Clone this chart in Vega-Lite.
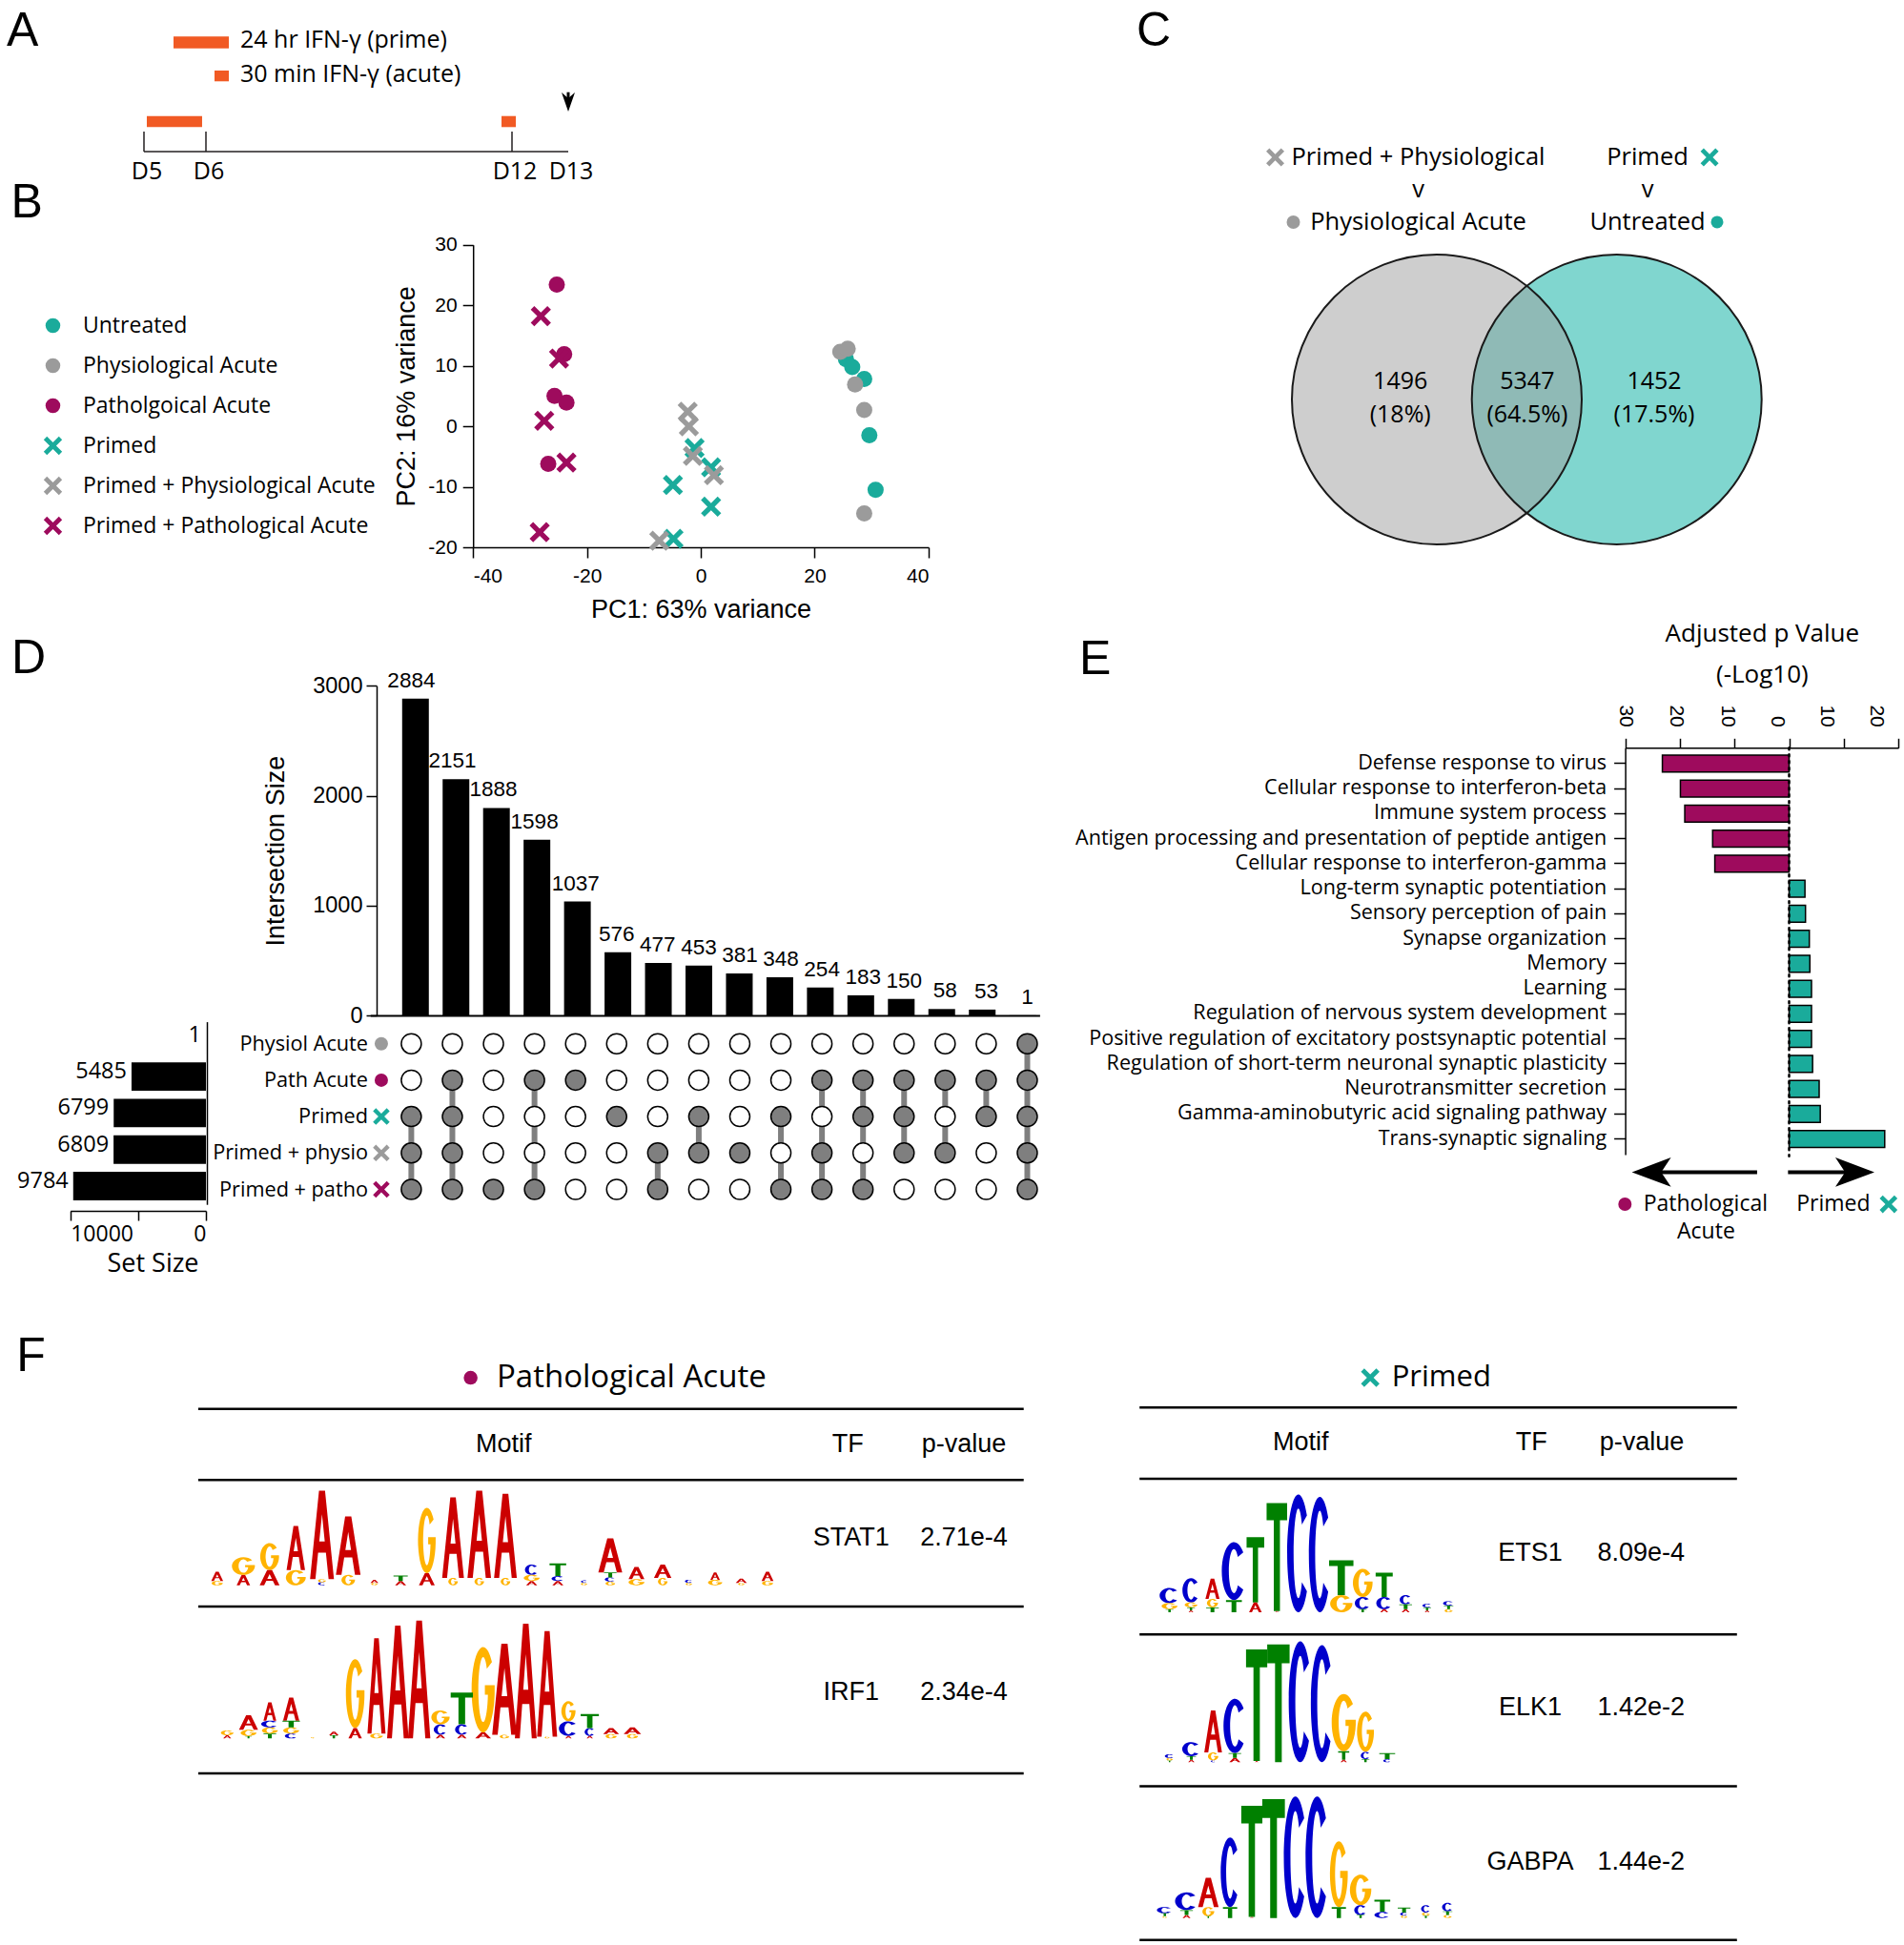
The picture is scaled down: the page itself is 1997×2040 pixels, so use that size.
{
"$schema":"https://vega.github.io/schema/vega-lite/v6.json",
"width":1997,"height":2040,"autosize":{"type":"none"},"padding":0,"background":"white",
"config":{"view":{"stroke":null},"axis":{"grid":false,"labelFont":"Liberation Sans","titleFont":"Liberation Sans","labelColor":"black","titleColor":"black","domainColor":"black","tickColor":"black","domainWidth":1.5,"tickWidth":1.5,"titleFontWeight":"normal","labelLimit":1000},"text":{"font":"Open Sans","color":"black"}},
"datasets":{
"days":[{"day":5,"label":"D5"},{"day":6,"label":"D6"},{"day":12,"label":"D12"},{"day":13,"label":"D13"}],
"timeline":[{"treatment":"24 hr IFN-γ (prime)","start":5.046,"end":5.938},{"treatment":"30 min IFN-γ (acute)","start":11.794,"end":12.068}],
"pca":[
{"group":"Untreated","PC1":25.5,"PC2":11.1},{"group":"Untreated","PC1":26.6,"PC2":9.8},{"group":"Untreated","PC1":28.7,"PC2":7.8},{"group":"Untreated","PC1":29.6,"PC2":-1.5},{"group":"Untreated","PC1":30.7,"PC2":-10.5},
{"group":"Physiological Acute","PC1":24.5,"PC2":12.3},{"group":"Physiological Acute","PC1":25.8,"PC2":12.8},{"group":"Physiological Acute","PC1":27.1,"PC2":6.9},{"group":"Physiological Acute","PC1":28.7,"PC2":2.7},{"group":"Physiological Acute","PC1":28.7,"PC2":-14.4},
{"group":"Patholgoical Acute","PC1":-25.3,"PC2":23.4},{"group":"Patholgoical Acute","PC1":-24.0,"PC2":11.9},{"group":"Patholgoical Acute","PC1":-25.7,"PC2":5.0},{"group":"Patholgoical Acute","PC1":-23.6,"PC2":3.9},{"group":"Patholgoical Acute","PC1":-26.8,"PC2":-6.2},
{"group":"Primed","PC1":-1.1,"PC2":-3.6},{"group":"Primed","PC1":1.8,"PC2":-6.8},{"group":"Primed","PC1":-4.9,"PC2":-9.7},{"group":"Primed","PC1":1.8,"PC2":-13.3},{"group":"Primed","PC1":-4.8,"PC2":-18.6},
{"group":"Primed + Physiological Acute","PC1":-2.3,"PC2":2.4},{"group":"Primed + Physiological Acute","PC1":-2.1,"PC2":0.0},{"group":"Primed + Physiological Acute","PC1":-1.4,"PC2":-4.9},{"group":"Primed + Physiological Acute","PC1":2.3,"PC2":-8.1},{"group":"Primed + Physiological Acute","PC1":-7.3,"PC2":-18.9},
{"group":"Primed + Pathological Acute","PC1":-28.1,"PC2":18.2},{"group":"Primed + Pathological Acute","PC1":-24.9,"PC2":11.2},{"group":"Primed + Pathological Acute","PC1":-27.5,"PC2":0.9},{"group":"Primed + Pathological Acute","PC1":-23.6,"PC2":-6.0},{"group":"Primed + Pathological Acute","PC1":-28.3,"PC2":-17.5}],
"upset":[
{"col":1,"size":2884,"physiol":0,"path":0,"primed":1,"pphysio":1,"ppatho":1},
{"col":2,"size":2151,"physiol":0,"path":1,"primed":1,"pphysio":1,"ppatho":1},
{"col":3,"size":1888,"physiol":0,"path":0,"primed":0,"pphysio":0,"ppatho":1},
{"col":4,"size":1598,"physiol":0,"path":1,"primed":0,"pphysio":0,"ppatho":1},
{"col":5,"size":1037,"physiol":0,"path":1,"primed":0,"pphysio":0,"ppatho":0},
{"col":6,"size":576,"physiol":0,"path":0,"primed":1,"pphysio":0,"ppatho":0},
{"col":7,"size":477,"physiol":0,"path":0,"primed":0,"pphysio":1,"ppatho":1},
{"col":8,"size":453,"physiol":0,"path":0,"primed":1,"pphysio":1,"ppatho":0},
{"col":9,"size":381,"physiol":0,"path":0,"primed":0,"pphysio":1,"ppatho":0},
{"col":10,"size":348,"physiol":0,"path":0,"primed":1,"pphysio":0,"ppatho":1},
{"col":11,"size":254,"physiol":0,"path":1,"primed":0,"pphysio":1,"ppatho":1},
{"col":12,"size":183,"physiol":0,"path":1,"primed":1,"pphysio":0,"ppatho":1},
{"col":13,"size":150,"physiol":0,"path":1,"primed":1,"pphysio":1,"ppatho":0},
{"col":14,"size":58,"physiol":0,"path":1,"primed":0,"pphysio":1,"ppatho":0},
{"col":15,"size":53,"physiol":0,"path":1,"primed":1,"pphysio":0,"ppatho":0},
{"col":16,"size":1,"physiol":1,"path":1,"primed":1,"pphysio":1,"ppatho":1}],
"links":[
{"col":1,"from":"primed","to":"ppatho"},{"col":2,"from":"path","to":"ppatho"},{"col":4,"from":"path","to":"ppatho"},{"col":7,"from":"pphysio","to":"ppatho"},{"col":8,"from":"primed","to":"pphysio"},{"col":10,"from":"primed","to":"ppatho"},{"col":11,"from":"path","to":"ppatho"},{"col":12,"from":"path","to":"ppatho"},{"col":13,"from":"path","to":"pphysio"},{"col":14,"from":"path","to":"pphysio"},{"col":15,"from":"path","to":"primed"},{"col":16,"from":"physiol","to":"ppatho"}],
"sets":[{"set":"physiol","label":"Physiol Acute","size":1},{"set":"path","label":"Path  Acute","size":5485},{"set":"primed","label":"Primed","size":6799},{"set":"pphysio","label":"Primed + physio","size":6809},{"set":"ppatho","label":"Primed + patho","size":9784}],
"go":[
{"term":"Defense response to virus","value":-23.2,"group":"Pathological Acute"},
{"term":"Cellular response to interferon-beta","value":-19.9,"group":"Pathological Acute"},
{"term":"Immune system process","value":-19.1,"group":"Pathological Acute"},
{"term":"Antigen processing and presentation of peptide antigen","value":-14.0,"group":"Pathological Acute"},
{"term":"Cellular response to interferon-gamma","value":-13.6,"group":"Pathological Acute"},
{"term":"Long-term synaptic potentiation","value":2.9,"group":"Primed"},
{"term":"Sensory perception of pain","value":3.0,"group":"Primed"},
{"term":"Synapse organization","value":3.7,"group":"Primed"},
{"term":"Memory","value":3.8,"group":"Primed"},
{"term":"Learning","value":4.1,"group":"Primed"},
{"term":"Regulation of nervous system development","value":4.1,"group":"Primed"},
{"term":"Positive regulation of excitatory postsynaptic potential","value":4.1,"group":"Primed"},
{"term":"Regulation of short-term neuronal synaptic plasticity","value":4.3,"group":"Primed"},
{"term":"Neurotransmitter secretion","value":5.5,"group":"Primed"},
{"term":"Gamma-aminobutyric acid signaling pathway","value":5.7,"group":"Primed"},
{"term":"Trans-synaptic signaling","value":17.5,"group":"Primed"}],
"venn":[{"region":"left","count":"1496","pct":"(18%)"},{"region":"both","count":"5347","pct":"(64.5%)"},{"region":"right","count":"1452","pct":"(17.5%)"}],
"vennhead":[{"side":"left","line":1,"text":"Primed + Physiological"},{"side":"left","line":2,"text":"v"},{"side":"left","line":3,"text":"Physiological Acute"},{"side":"right","line":1,"text":"Primed"},{"side":"right","line":2,"text":"v"},{"side":"right","line":3,"text":"Untreated"}],
"tfs":[{"side":"left","TF":"STAT1","p":"2.71e-4"},{"side":"left","TF":"IRF1","p":"2.34e-4"},{"side":"right","TF":"ETS1","p":"8.09e-4"},{"side":"right","TF":"ELK1","p":"1.42e-2"},{"side":"right","TF":"GABPA","p":"1.44e-2"}],
"logos":[
{"motif":"STAT1","pos":1,"letter":"G","bits":0.07},{"motif":"STAT1","pos":1,"letter":"A","bits":0.15},
{"motif":"STAT1","pos":2,"letter":"A","bits":0.17},{"motif":"STAT1","pos":2,"letter":"G","bits":0.29},
{"motif":"STAT1","pos":3,"letter":"A","bits":0.25},{"motif":"STAT1","pos":3,"letter":"G","bits":0.44},
{"motif":"STAT1","pos":4,"letter":"G","bits":0.25},{"motif":"STAT1","pos":4,"letter":"A","bits":0.72},
{"motif":"STAT1","pos":5,"letter":"C","bits":0.05},{"motif":"STAT1","pos":5,"letter":"G","bits":0.05},{"motif":"STAT1","pos":5,"letter":"A","bits":1.45},
{"motif":"STAT1","pos":6,"letter":"G","bits":0.17},{"motif":"STAT1","pos":6,"letter":"A","bits":0.96},
{"motif":"STAT1","pos":7,"letter":"G","bits":0.04},{"motif":"STAT1","pos":7,"letter":"A","bits":0.05},
{"motif":"STAT1","pos":8,"letter":"A","bits":0.07},{"motif":"STAT1","pos":8,"letter":"T","bits":0.09},
{"motif":"STAT1","pos":9,"letter":"A","bits":0.2},{"motif":"STAT1","pos":9,"letter":"G","bits":1.07},
{"motif":"STAT1","pos":10,"letter":"G","bits":0.12},{"motif":"STAT1","pos":10,"letter":"A","bits":1.32},
{"motif":"STAT1","pos":11,"letter":"G","bits":0.12},{"motif":"STAT1","pos":11,"letter":"A","bits":1.43},
{"motif":"STAT1","pos":12,"letter":"G","bits":0.12},{"motif":"STAT1","pos":12,"letter":"A","bits":1.38},
{"motif":"STAT1","pos":13,"letter":"A","bits":0.07},{"motif":"STAT1","pos":13,"letter":"G","bits":0.1},{"motif":"STAT1","pos":13,"letter":"C","bits":0.17},
{"motif":"STAT1","pos":14,"letter":"A","bits":0.07},{"motif":"STAT1","pos":14,"letter":"C","bits":0.08},{"motif":"STAT1","pos":14,"letter":"T","bits":0.21},
{"motif":"STAT1","pos":15,"letter":"G","bits":0.04},{"motif":"STAT1","pos":15,"letter":"C","bits":0.04},
{"motif":"STAT1","pos":16,"letter":"G","bits":0.06},{"motif":"STAT1","pos":16,"letter":"C","bits":0.07},{"motif":"STAT1","pos":16,"letter":"T","bits":0.08},{"motif":"STAT1","pos":16,"letter":"A","bits":0.56},
{"motif":"STAT1","pos":17,"letter":"G","bits":0.1},{"motif":"STAT1","pos":17,"letter":"A","bits":0.2},
{"motif":"STAT1","pos":18,"letter":"G","bits":0.12},{"motif":"STAT1","pos":18,"letter":"A","bits":0.22},
{"motif":"STAT1","pos":19,"letter":"G","bits":0.04},{"motif":"STAT1","pos":19,"letter":"C","bits":0.05},
{"motif":"STAT1","pos":20,"letter":"G","bits":0.09},{"motif":"STAT1","pos":20,"letter":"A","bits":0.12},
{"motif":"STAT1","pos":21,"letter":"G","bits":0.04},{"motif":"STAT1","pos":21,"letter":"A","bits":0.07},
{"motif":"STAT1","pos":22,"letter":"G","bits":0.07},{"motif":"STAT1","pos":22,"letter":"A","bits":0.15},
{"motif":"IRF1","pos":1,"letter":"A","bits":0.05},{"motif":"IRF1","pos":1,"letter":"G","bits":0.08},
{"motif":"IRF1","pos":2,"letter":"T","bits":0.04},{"motif":"IRF1","pos":2,"letter":"G","bits":0.1},{"motif":"IRF1","pos":2,"letter":"A","bits":0.24},
{"motif":"IRF1","pos":3,"letter":"T","bits":0.08},{"motif":"IRF1","pos":3,"letter":"G","bits":0.1},{"motif":"IRF1","pos":3,"letter":"C","bits":0.11},{"motif":"IRF1","pos":3,"letter":"A","bits":0.3},
{"motif":"IRF1","pos":4,"letter":"C","bits":0.08},{"motif":"IRF1","pos":4,"letter":"G","bits":0.1},{"motif":"IRF1","pos":4,"letter":"T","bits":0.11},{"motif":"IRF1","pos":4,"letter":"A","bits":0.38},
{"motif":"IRF1","pos":5,"letter":"G","bits":0.02},
{"motif":"IRF1","pos":6,"letter":"T","bits":0.05},{"motif":"IRF1","pos":6,"letter":"A","bits":0.06},
{"motif":"IRF1","pos":7,"letter":"A","bits":0.17},{"motif":"IRF1","pos":7,"letter":"G","bits":1.13},
{"motif":"IRF1","pos":8,"letter":"G","bits":0.08},{"motif":"IRF1","pos":8,"letter":"A","bits":1.56},
{"motif":"IRF1","pos":9,"letter":"A","bits":1.85},
{"motif":"IRF1","pos":10,"letter":"A","bits":1.93},
{"motif":"IRF1","pos":11,"letter":"A","bits":0.06},{"motif":"IRF1","pos":11,"letter":"C","bits":0.17},{"motif":"IRF1","pos":11,"letter":"G","bits":0.23},
{"motif":"IRF1","pos":12,"letter":"A","bits":0.06},{"motif":"IRF1","pos":12,"letter":"C","bits":0.17},{"motif":"IRF1","pos":12,"letter":"T","bits":0.52},
{"motif":"IRF1","pos":13,"letter":"A","bits":0.1},{"motif":"IRF1","pos":13,"letter":"G","bits":1.4},
{"motif":"IRF1","pos":14,"letter":"G","bits":0.06},{"motif":"IRF1","pos":14,"letter":"A","bits":1.49},
{"motif":"IRF1","pos":15,"letter":"A","bits":1.88},
{"motif":"IRF1","pos":16,"letter":"G","bits":0.03},{"motif":"IRF1","pos":16,"letter":"A","bits":1.73},
{"motif":"IRF1","pos":17,"letter":"A","bits":0.04},{"motif":"IRF1","pos":17,"letter":"C","bits":0.24},{"motif":"IRF1","pos":17,"letter":"G","bits":0.33},
{"motif":"IRF1","pos":18,"letter":"A","bits":0.04},{"motif":"IRF1","pos":18,"letter":"C","bits":0.13},{"motif":"IRF1","pos":18,"letter":"T","bits":0.23},
{"motif":"IRF1","pos":19,"letter":"G","bits":0.07},{"motif":"IRF1","pos":19,"letter":"A","bits":0.1},
{"motif":"IRF1","pos":20,"letter":"G","bits":0.07},{"motif":"IRF1","pos":20,"letter":"A","bits":0.11},
{"motif":"ETS1","pos":1,"letter":"T","bits":0.05},{"motif":"ETS1","pos":1,"letter":"G","bits":0.1},{"motif":"ETS1","pos":1,"letter":"C","bits":0.25},
{"motif":"ETS1","pos":2,"letter":"A","bits":0.03},{"motif":"ETS1","pos":2,"letter":"T","bits":0.05},{"motif":"ETS1","pos":2,"letter":"G","bits":0.08},{"motif":"ETS1","pos":2,"letter":"C","bits":0.4},
{"motif":"ETS1","pos":3,"letter":"T","bits":0.08},{"motif":"ETS1","pos":3,"letter":"G","bits":0.14},{"motif":"ETS1","pos":3,"letter":"A","bits":0.33},
{"motif":"ETS1","pos":4,"letter":"T","bits":0.2},{"motif":"ETS1","pos":4,"letter":"C","bits":0.95},
{"motif":"ETS1","pos":5,"letter":"A","bits":0.16},{"motif":"ETS1","pos":5,"letter":"T","bits":1.07},
{"motif":"ETS1","pos":6,"letter":"A","bits":0.02},{"motif":"ETS1","pos":6,"letter":"T","bits":1.77},
{"motif":"ETS1","pos":7,"letter":"C","bits":1.93},
{"motif":"ETS1","pos":8,"letter":"C","bits":1.89},
{"motif":"ETS1","pos":9,"letter":"G","bits":0.28},{"motif":"ETS1","pos":9,"letter":"T","bits":0.57},
{"motif":"ETS1","pos":10,"letter":"T","bits":0.05},{"motif":"ETS1","pos":10,"letter":"C","bits":0.2},{"motif":"ETS1","pos":10,"letter":"G","bits":0.46},
{"motif":"ETS1","pos":11,"letter":"A","bits":0.05},{"motif":"ETS1","pos":11,"letter":"C","bits":0.2},{"motif":"ETS1","pos":11,"letter":"T","bits":0.4},
{"motif":"ETS1","pos":12,"letter":"A","bits":0.05},{"motif":"ETS1","pos":12,"letter":"T","bits":0.08},{"motif":"ETS1","pos":12,"letter":"C","bits":0.15},
{"motif":"ETS1","pos":13,"letter":"A","bits":0.03},{"motif":"ETS1","pos":13,"letter":"T","bits":0.05},{"motif":"ETS1","pos":13,"letter":"C","bits":0.06},
{"motif":"ETS1","pos":14,"letter":"G","bits":0.05},{"motif":"ETS1","pos":14,"letter":"T","bits":0.06},{"motif":"ETS1","pos":14,"letter":"C","bits":0.07},
{"motif":"ELK1","pos":1,"letter":"T","bits":0.03},{"motif":"ELK1","pos":1,"letter":"G","bits":0.04},{"motif":"ELK1","pos":1,"letter":"C","bits":0.06},
{"motif":"ELK1","pos":2,"letter":"A","bits":0.04},{"motif":"ELK1","pos":2,"letter":"T","bits":0.06},{"motif":"ELK1","pos":2,"letter":"C","bits":0.23},
{"motif":"ELK1","pos":3,"letter":"C","bits":0.03},{"motif":"ELK1","pos":3,"letter":"G","bits":0.13},{"motif":"ELK1","pos":3,"letter":"A","bits":0.69},
{"motif":"ELK1","pos":4,"letter":"A","bits":0.07},{"motif":"ELK1","pos":4,"letter":"T","bits":0.08},{"motif":"ELK1","pos":4,"letter":"C","bits":0.89},
{"motif":"ELK1","pos":5,"letter":"A","bits":0.02},{"motif":"ELK1","pos":5,"letter":"T","bits":1.83},
{"motif":"ELK1","pos":6,"letter":"T","bits":1.93},
{"motif":"ELK1","pos":7,"letter":"C","bits":1.98},
{"motif":"ELK1","pos":8,"letter":"C","bits":1.92},
{"motif":"ELK1","pos":9,"letter":"A","bits":0.04},{"motif":"ELK1","pos":9,"letter":"T","bits":0.14},{"motif":"ELK1","pos":9,"letter":"G","bits":0.94},
{"motif":"ELK1","pos":10,"letter":"T","bits":0.05},{"motif":"ELK1","pos":10,"letter":"C","bits":0.12},{"motif":"ELK1","pos":10,"letter":"G","bits":0.66},
{"motif":"ELK1","pos":11,"letter":"C","bits":0.05},{"motif":"ELK1","pos":11,"letter":"T","bits":0.1},
{"motif":"GABPA","pos":1,"letter":"G","bits":0.03},{"motif":"GABPA","pos":1,"letter":"T","bits":0.05},{"motif":"GABPA","pos":1,"letter":"C","bits":0.1},
{"motif":"GABPA","pos":2,"letter":"A","bits":0.05},{"motif":"GABPA","pos":2,"letter":"T","bits":0.08},{"motif":"GABPA","pos":2,"letter":"C","bits":0.29},
{"motif":"GABPA","pos":3,"letter":"T","bits":0.03},{"motif":"GABPA","pos":3,"letter":"G","bits":0.15},{"motif":"GABPA","pos":3,"letter":"A","bits":0.48},
{"motif":"GABPA","pos":4,"letter":"T","bits":0.18},{"motif":"GABPA","pos":4,"letter":"C","bits":1.14},
{"motif":"GABPA","pos":5,"letter":"A","bits":0.02},{"motif":"GABPA","pos":5,"letter":"T","bits":1.82},
{"motif":"GABPA","pos":6,"letter":"T","bits":1.95},
{"motif":"GABPA","pos":7,"letter":"C","bits":1.99},
{"motif":"GABPA","pos":8,"letter":"C","bits":1.99},
{"motif":"GABPA","pos":9,"letter":"T","bits":0.18},{"motif":"GABPA","pos":9,"letter":"G","bits":1.08},
{"motif":"GABPA","pos":10,"letter":"T","bits":0.05},{"motif":"GABPA","pos":10,"letter":"C","bits":0.16},{"motif":"GABPA","pos":10,"letter":"G","bits":0.5},
{"motif":"GABPA","pos":11,"letter":"C","bits":0.1},{"motif":"GABPA","pos":11,"letter":"T","bits":0.2},
{"motif":"GABPA","pos":12,"letter":"G","bits":0.04},{"motif":"GABPA","pos":12,"letter":"C","bits":0.05},{"motif":"GABPA","pos":12,"letter":"T","bits":0.08},
{"motif":"GABPA","pos":13,"letter":"T","bits":0.04},{"motif":"GABPA","pos":13,"letter":"G","bits":0.05},{"motif":"GABPA","pos":13,"letter":"C","bits":0.12},
{"motif":"GABPA","pos":14,"letter":"G","bits":0.05},{"motif":"GABPA","pos":14,"letter":"T","bits":0.06},{"motif":"GABPA","pos":14,"letter":"C","bits":0.14}]
},
"layer":[
{"layer":[
 {"data":{"values":[{}]},"mark":{"type":"rule","color":"#231f20","strokeWidth":1.5},"encoding":{"x":{"datum":5,"type":"quantitative","scale":{"domain":[5,6,12,13],"range":[151,216,537,596],"zero":false,"nice":false},"axis":null},"x2":{"datum":13},"y":{"datum":0,"type":"quantitative","scale":{"domain":[0,10],"range":[159,59],"zero":false,"nice":false},"axis":null}}},
 {"data":{"name":"days"},"transform":[{"filter":"datum.day != 13"}],"mark":{"type":"rule","color":"#231f20","strokeWidth":1.5},"encoding":{"x":{"field":"day","type":"quantitative","scale":{"domain":[5,6,12,13],"range":[151,216,537,596],"zero":false,"nice":false},"axis":null},"y":{"datum":0,"type":"quantitative","scale":{"domain":[0,10],"range":[159,59],"zero":false,"nice":false},"axis":null},"y2":{"datum":2.1}}},
 {"data":{"name":"days"},"mark":{"type":"text","fontSize":25,"align":"center","baseline":"alphabetic","dx":3},"encoding":{"x":{"field":"day","type":"quantitative","scale":{"domain":[5,6,12,13],"range":[151,216,537,596],"zero":false,"nice":false},"axis":null},"y":{"datum":-2.9,"type":"quantitative","scale":{"domain":[0,10],"range":[159,59],"zero":false,"nice":false},"axis":null},"text":{"field":"label"}}},
 {"data":{"name":"timeline"},"mark":{"type":"rect","color":"#f15a24"},"encoding":{"x":{"field":"start","type":"quantitative","scale":{"domain":[5,6,12,13],"range":[151,216,537,596],"zero":false,"nice":false},"axis":null},"x2":{"field":"end"},"y":{"datum":2.57,"type":"quantitative","scale":{"domain":[0,10],"range":[159,59],"zero":false,"nice":false},"axis":null},"y2":{"datum":3.73}}},
 {"data":{"values":[{}]},"mark":{"type":"rect","color":"#f15a24"},"encoding":{"x":{"datum":5.477,"type":"quantitative","scale":{"domain":[5,6,12,13],"range":[151,216,537,596],"zero":false,"nice":false},"axis":null},"x2":{"datum":6.449},"y":{"datum":10.83,"type":"quantitative","scale":{"domain":[0,10],"range":[159,59],"zero":false,"nice":false},"axis":null},"y2":{"datum":12.07}}},
 {"data":{"values":[{}]},"mark":{"type":"rect","color":"#f15a24"},"encoding":{"x":{"datum":6.168,"type":"quantitative","scale":{"domain":[5,6,12,13],"range":[151,216,537,596],"zero":false,"nice":false},"axis":null},"x2":{"datum":6.449},"y":{"datum":7.37,"type":"quantitative","scale":{"domain":[0,10],"range":[159,59],"zero":false,"nice":false},"axis":null},"y2":{"datum":8.5}}},
 {"data":{"values":[{}]},"mark":{"type":"text","text":"24 hr IFN-γ (prime)","fontSize":25,"align":"left","baseline":"alphabetic"},"encoding":{"x":{"datum":6.673,"type":"quantitative","scale":{"domain":[5,6,12,13],"range":[151,216,537,596],"zero":false,"nice":false},"axis":null},"y":{"datum":10.9,"type":"quantitative","scale":{"domain":[0,10],"range":[159,59],"zero":false,"nice":false},"axis":null}}},
 {"data":{"values":[{}]},"mark":{"type":"text","text":"30 min IFN-γ (acute)","fontSize":25,"align":"left","baseline":"alphabetic"},"encoding":{"x":{"datum":6.673,"type":"quantitative","scale":{"domain":[5,6,12,13],"range":[151,216,537,596],"zero":false,"nice":false},"axis":null},"y":{"datum":7.3,"type":"quantitative","scale":{"domain":[0,10],"range":[159,59],"zero":false,"nice":false},"axis":null}}},
 {"data":{"values":[{}]},"mark":{"type":"rule","color":"black","strokeWidth":3},"encoding":{"x":{"datum":13,"type":"quantitative","scale":{"domain":[5,6,12,13],"range":[151,216,537,596],"zero":false,"nice":false},"axis":null},"y":{"datum":6.23,"type":"quantitative","scale":{"domain":[0,10],"range":[159,59],"zero":false,"nice":false},"axis":null},"y2":{"datum":5.0}}},
 {"data":{"values":[{}]},"mark":{"type":"point","shape":"M0,1L-0.7,-1L0,-0.4L0.7,-1Z","size":400,"filled":true,"opacity":1,"color":"black"},"encoding":{"x":{"datum":13,"type":"quantitative","scale":{"domain":[5,6,12,13],"range":[151,216,537,596],"zero":false,"nice":false},"axis":null},"y":{"datum":5.2,"type":"quantitative","scale":{"domain":[0,10],"range":[159,59],"zero":false,"nice":false},"axis":null}}},
 {"data":{"values":[{}]},"mark":{"type":"text","text":"A","font":"Liberation Sans","fontSize":50,"align":"center","baseline":"alphabetic"},"encoding":{"x":{"datum":3.04,"type":"quantitative","scale":{"domain":[5,6,12,13],"range":[151,216,537,596],"zero":false,"nice":false},"axis":null},"y":{"datum":11.1,"type":"quantitative","scale":{"domain":[0,10],"range":[159,59],"zero":false,"nice":false},"axis":null}}}
],"resolve":{"scale":{"x":"independent","y":"independent"}}},
{"layer":[
 {"data":{"name":"pca"},"mark":{"type":"point","filled":true,"opacity":1,"size":289},
  "encoding":{
   "x":{"field":"PC1","type":"quantitative","scale":{"domain":[-40,40],"range":[496.2,973.9],"zero":false,"nice":false},"axis":{"orient":"bottom","offset":-1466,"values":[-40,-20,0,20,40],"format":"d","labelExpr":"replace(datum.label,'−','-')","labelFontSize":21,"tickSize":11,"labelPadding":8,"title":"PC1: 63% variance","titleFontSize":27,"titlePadding":12}},
   "y":{"field":"PC2","type":"quantitative","scale":{"domain":[-20,30],"range":[574,256.7],"zero":false,"nice":false},"axis":{"orient":"left","offset":-496.2,"values":[-20,-10,0,10,20,30],"format":"d","labelExpr":"replace(datum.label,'−','-')","labelFontSize":21,"tickSize":11,"labelPadding":6,"title":"PC2: 16% variance","titleFontSize":27,"titlePadding":8}},
   "color":{"field":"group","type":"nominal","scale":{"domain":["Untreated","Physiological Acute","Patholgoical Acute","Primed","Primed + Physiological Acute","Primed + Pathological Acute"],"range":["#1aab9b","#9b9b9b","#9e0b5d","#1aab9b","#9b9b9b","#9e0b5d"]},"legend":{"orient":"none","legendX":44,"legendY":330,"title":null,"labelFont":"Open Sans","labelFontSize":23,"labelColor":"black","symbolSize":240,"rowPadding":18,"labelOffset":20,"symbolStrokeWidth":0,"labelLimit":1000}},
   "shape":{"field":"group","type":"nominal","scale":{"domain":["Untreated","Physiological Acute","Patholgoical Acute","Primed","Primed + Physiological Acute","Primed + Pathological Acute"],"range":["circle","circle","circle","M-1.25,-0.81L-0.81,-1.25L0,-0.44L0.81,-1.25L1.25,-0.81L0.44,0L1.25,0.81L0.81,1.25L0,0.44L-0.81,1.25L-1.25,0.81L-0.44,0Z","M-1.25,-0.81L-0.81,-1.25L0,-0.44L0.81,-1.25L1.25,-0.81L0.44,0L1.25,0.81L0.81,1.25L0,0.44L-0.81,1.25L-1.25,0.81L-0.44,0Z","M-1.25,-0.81L-0.81,-1.25L0,-0.44L0.81,-1.25L1.25,-0.81L0.44,0L1.25,0.81L0.81,1.25L0,0.44L-0.81,1.25L-1.25,0.81L-0.44,0Z"]},"legend":{"orient":"none","legendX":44,"legendY":330,"title":null,"labelFont":"Open Sans","labelFontSize":23,"labelColor":"black","symbolSize":240,"rowPadding":18,"labelOffset":20,"symbolStrokeWidth":0,"labelLimit":1000}}}},
 {"data":{"values":[{}]},"mark":{"type":"text","text":"B","font":"Liberation Sans","fontSize":50,"align":"center","baseline":"alphabetic"},"encoding":{"x":{"datum":-118.4,"type":"quantitative","scale":{"domain":[-40,40],"range":[496.2,973.9],"zero":false,"nice":false},"axis":null},"y":{"datum":34.6,"type":"quantitative","scale":{"domain":[-20,30],"range":[574,256.7],"zero":false,"nice":false},"axis":null}}}
],"resolve":{"scale":{"x":"independent","y":"independent","color":"independent","shape":"independent"}}},
{"layer":[
 {"data":{"values":[{}]},"mark":{"type":"point","shape":"circle","size":92416,"filled":true,"opacity":1,"color":"#80d6cf"},"encoding":{"x":{"datum":1.2414,"type":"quantitative","scale":{"domain":[-1,2.24],"range":[1355,1847.5],"zero":false,"nice":false},"axis":null},"y":{"datum":0,"type":"quantitative","scale":{"domain":[-1,1],"range":[571,267],"zero":false,"nice":false},"axis":null}}},
 {"data":{"values":[{}]},"mark":{"type":"point","shape":"circle","size":92416,"filled":true,"opacity":0.5,"color":"#9d9d9d"},"encoding":{"x":{"datum":0,"type":"quantitative","scale":{"domain":[-1,2.24],"range":[1355,1847.5],"zero":false,"nice":false},"axis":null},"y":{"datum":0,"type":"quantitative","scale":{"domain":[-1,1],"range":[571,267],"zero":false,"nice":false},"axis":null}}},
 {"data":{"values":[{}]},"mark":{"type":"point","shape":"circle","size":92416,"filled":false,"opacity":1,"color":"#1a1a1a","strokeWidth":2},"encoding":{"x":{"datum":1.2414,"type":"quantitative","scale":{"domain":[-1,2.24],"range":[1355,1847.5],"zero":false,"nice":false},"axis":null},"y":{"datum":0,"type":"quantitative","scale":{"domain":[-1,1],"range":[571,267],"zero":false,"nice":false},"axis":null}}},
 {"data":{"values":[{}]},"mark":{"type":"point","shape":"circle","size":92416,"filled":false,"opacity":1,"color":"#1a1a1a","strokeWidth":2},"encoding":{"x":{"datum":0,"type":"quantitative","scale":{"domain":[-1,2.24],"range":[1355,1847.5],"zero":false,"nice":false},"axis":null},"y":{"datum":0,"type":"quantitative","scale":{"domain":[-1,1],"range":[571,267],"zero":false,"nice":false},"axis":null}}},
 {"data":{"name":"venn"},"mark":{"type":"text","fontSize":25,"align":"center","baseline":"middle"},"encoding":{"x":{"field":"region","type":"nominal","scale":{"type":"point","domain":["left","both","right"],"range":[1468.7,1735],"padding":0},"axis":null},"y":{"datum":0.125,"type":"quantitative","scale":{"domain":[-1,1],"range":[571,267],"zero":false,"nice":false},"axis":null},"text":{"field":"count"}}},
 {"data":{"name":"venn"},"mark":{"type":"text","fontSize":25,"align":"center","baseline":"middle"},"encoding":{"x":{"field":"region","type":"nominal","scale":{"type":"point","domain":["left","both","right"],"range":[1468.7,1735],"padding":0},"axis":null},"y":{"datum":-0.105,"type":"quantitative","scale":{"domain":[-1,1],"range":[571,267],"zero":false,"nice":false},"axis":null},"text":{"field":"pct"}}},
 {"data":{"name":"vennhead"},"mark":{"type":"text","fontSize":25.5,"align":"center","baseline":"middle"},"encoding":{"x":{"field":"side","type":"nominal","scale":{"type":"point","domain":["left","right"],"range":[1487.5,1728],"padding":0},"axis":null},"y":{"field":"line","type":"ordinal","scale":{"type":"point","domain":[1,2,3],"range":[165,233],"padding":0},"axis":null},"text":{"field":"text"}}},
 {"data":{"values":[{}]},"mark":{"type":"point","shape":"M-1.25,-0.81L-0.81,-1.25L0,-0.44L0.81,-1.25L1.25,-0.81L0.44,0L1.25,0.81L0.81,1.25L0,0.44L-0.81,1.25L-1.25,0.81L-0.44,0Z","size":231,"filled":true,"opacity":1,"color":"#9b9b9b"},"encoding":{"x":{"datum":-1.115,"type":"quantitative","scale":{"domain":[-1,2.24],"range":[1355,1847.5],"zero":false,"nice":false},"axis":null},"y":{"datum":1.671,"type":"quantitative","scale":{"domain":[-1,1],"range":[571,267],"zero":false,"nice":false},"axis":null}}},
 {"data":{"values":[{}]},"mark":{"type":"point","shape":"circle","size":196,"filled":true,"opacity":1,"color":"#9b9b9b"},"encoding":{"x":{"datum":-0.99,"type":"quantitative","scale":{"domain":[-1,2.24],"range":[1355,1847.5],"zero":false,"nice":false},"axis":null},"y":{"datum":1.224,"type":"quantitative","scale":{"domain":[-1,1],"range":[571,267],"zero":false,"nice":false},"axis":null}}},
 {"data":{"values":[{}]},"mark":{"type":"point","shape":"M-1.25,-0.81L-0.81,-1.25L0,-0.44L0.81,-1.25L1.25,-0.81L0.44,0L1.25,0.81L0.81,1.25L0,0.44L-0.81,1.25L-1.25,0.81L-0.44,0Z","size":231,"filled":true,"opacity":1,"color":"#1aab9b"},"encoding":{"x":{"datum":1.882,"type":"quantitative","scale":{"domain":[-1,2.24],"range":[1355,1847.5],"zero":false,"nice":false},"axis":null},"y":{"datum":1.671,"type":"quantitative","scale":{"domain":[-1,1],"range":[571,267],"zero":false,"nice":false},"axis":null}}},
 {"data":{"values":[{}]},"mark":{"type":"point","shape":"circle","size":169,"filled":true,"opacity":1,"color":"#1aab9b"},"encoding":{"x":{"datum":1.934,"type":"quantitative","scale":{"domain":[-1,2.24],"range":[1355,1847.5],"zero":false,"nice":false},"axis":null},"y":{"datum":1.224,"type":"quantitative","scale":{"domain":[-1,1],"range":[571,267],"zero":false,"nice":false},"axis":null}}},
 {"data":{"values":[{}]},"mark":{"type":"text","text":"C","font":"Liberation Sans","fontSize":50,"align":"center","baseline":"alphabetic"},"encoding":{"x":{"datum":-1.954,"type":"quantitative","scale":{"domain":[-1,2.24],"range":[1355,1847.5],"zero":false,"nice":false},"axis":null},"y":{"datum":2.441,"type":"quantitative","scale":{"domain":[-1,1],"range":[571,267],"zero":false,"nice":false},"axis":null}}}
],"resolve":{"scale":{"x":"independent","y":"independent"}}},
{"layer":[
 {"data":{"name":"upset"},"mark":{"type":"bar","color":"black","width":28},"encoding":{"x":{"field":"col","type":"quantitative","scale":{"domain":[0,16.3],"range":[388.33,1090.4],"zero":false,"nice":false},"axis":{"orient":"bottom","offset":-975,"labels":false,"ticks":false,"title":null,"domainWidth":2}},"y":{"field":"size","type":"quantitative","scale":{"domain":[0,3000],"range":[1065,719.3],"zero":false,"nice":false},"axis":{"orient":"left","offset":-395,"values":[0,1000,2000,3000],"format":"d","tickSize":11,"labelFontSize":23.5,"labelPadding":4,"title":"Intersection Size","titleFontSize":27,"titlePadding":24}}}},
 {"data":{"name":"upset"},"mark":{"type":"text","font":"Liberation Sans","fontSize":22.5,"align":"center","baseline":"alphabetic","dy":-12},"encoding":{"x":{"field":"col","type":"quantitative","scale":{"domain":[0,16.3],"range":[388.33,1090.4],"zero":false,"nice":false},"axis":null},"y":{"field":"size","type":"quantitative","scale":{"domain":[0,3000],"range":[1065,719.3],"zero":false,"nice":false},"axis":null},"text":{"field":"size","type":"nominal"}}},
 {"data":{"name":"links"},"mark":{"type":"rule","color":"#7f7f7f","strokeWidth":6},"encoding":{"x":{"field":"col","type":"quantitative","scale":{"domain":[0,16.3],"range":[388.33,1090.4],"zero":false,"nice":false},"axis":null},"y":{"field":"from","type":"nominal","scale":{"type":"point","domain":["physiol","path","primed","pphysio","ppatho"],"range":[1094.7,1247.5],"padding":0},"axis":null},"y2":{"field":"to"}}},
 {"data":{"name":"upset"},"transform":[{"fold":["physiol","path","primed","pphysio","ppatho"],"as":["set","member"]}],"mark":{"type":"point","filled":true,"opacity":1,"size":441,"stroke":"black","strokeWidth":1.5},"encoding":{"x":{"field":"col","type":"quantitative","scale":{"domain":[0,16.3],"range":[388.33,1090.4],"zero":false,"nice":false},"axis":null},"y":{"field":"set","type":"nominal","scale":{"type":"point","domain":["physiol","path","primed","pphysio","ppatho"],"range":[1094.7,1247.5],"padding":0},"axis":null},"color":{"field":"member","type":"nominal","scale":{"domain":[0,1],"range":["white","#7f7f7f"]},"legend":null}}},
 {"data":{"name":"sets"},"mark":{"type":"text","fontSize":21.7,"align":"right","baseline":"middle"},"encoding":{"x":{"datum":-0.054,"type":"quantitative","scale":{"domain":[0,16.3],"range":[388.33,1090.4],"zero":false,"nice":false},"axis":null},"y":{"field":"set","type":"nominal","scale":{"type":"point","domain":["physiol","path","primed","pphysio","ppatho"],"range":[1094.7,1247.5],"padding":0},"axis":null},"text":{"field":"label"}}},
 {"data":{"name":"sets"},"mark":{"type":"point","filled":true,"opacity":1,"size":196},"encoding":{"x":{"datum":0.27,"type":"quantitative","scale":{"domain":[0,16.3],"range":[388.33,1090.4],"zero":false,"nice":false},"axis":null},"y":{"field":"set","type":"nominal","scale":{"type":"point","domain":["physiol","path","primed","pphysio","ppatho"],"range":[1094.7,1247.5],"padding":0},"axis":null},"color":{"field":"set","type":"nominal","scale":{"domain":["physiol","path","primed","pphysio","ppatho"],"range":["#9b9b9b","#9e0b5d","#1aab9b","#9b9b9b","#9e0b5d"]},"legend":null},"shape":{"field":"set","type":"nominal","scale":{"domain":["physiol","path","primed","pphysio","ppatho"],"range":["circle","circle","M-1.25,-0.81L-0.81,-1.25L0,-0.44L0.81,-1.25L1.25,-0.81L0.44,0L1.25,0.81L0.81,1.25L0,0.44L-0.81,1.25L-1.25,0.81L-0.44,0Z","M-1.25,-0.81L-0.81,-1.25L0,-0.44L0.81,-1.25L1.25,-0.81L0.44,0L1.25,0.81L0.81,1.25L0,0.44L-0.81,1.25L-1.25,0.81L-0.44,0Z","M-1.25,-0.81L-0.81,-1.25L0,-0.44L0.81,-1.25L1.25,-0.81L0.44,0L1.25,0.81L0.81,1.25L0,0.44L-0.81,1.25L-1.25,0.81L-0.44,0Z"]},"legend":null}}},
 {"data":{"name":"sets"},"mark":{"type":"bar","color":"black"},"encoding":{"x":{"field":"size","type":"quantitative","scale":{"domain":[0,10000],"range":[216,73.7],"zero":false,"nice":false},"axis":{"orient":"bottom","offset":-770,"values":[0,5000,10000],"format":"d","labelExpr":"datum.value == 5000 ? '' : datum.label","labelFont":"Open Sans","labelFontSize":23,"tickSize":10,"labelPadding":3,"title":"Set Size","titleFont":"Open Sans","titleFontSize":27,"titlePadding":6,"titleX":160}},"y":{"field":"set","type":"nominal","scale":{"type":"band","domain":["physiol","path","primed","pphysio","ppatho"],"range":[1071.6,1263.2],"paddingInner":0.22,"paddingOuter":0.11},"axis":{"orient":"right","offset":-1780,"labels":false,"ticks":false,"title":null}}}},
 {"data":{"name":"sets"},"mark":{"type":"text","fontSize":23.5,"align":"right","baseline":"middle","dx":-5,"dy":-5},"encoding":{"x":{"field":"size","type":"quantitative","scale":{"domain":[0,10000],"range":[216,73.7],"zero":false,"nice":false},"axis":null},"y":{"field":"set","type":"nominal","scale":{"type":"band","domain":["physiol","path","primed","pphysio","ppatho"],"range":[1071.6,1263.2],"paddingInner":0.22,"paddingOuter":0.11},"axis":null},"text":{"field":"size","type":"nominal"}}},
 {"data":{"values":[{}]},"mark":{"type":"text","text":"D","font":"Liberation Sans","fontSize":50,"align":"center","baseline":"alphabetic"},"encoding":{"x":{"datum":-8.32,"type":"quantitative","scale":{"domain":[0,16.3],"range":[388.33,1090.4],"zero":false,"nice":false},"axis":null},"y":{"datum":3115,"type":"quantitative","scale":{"domain":[0,3000],"range":[1065,719.3],"zero":false,"nice":false},"axis":null}}},
 {"data":{"values":[{}]},"mark":{"type":"text","text":"E","font":"Liberation Sans","fontSize":50,"align":"center","baseline":"alphabetic"},"encoding":{"x":{"datum":17.654,"type":"quantitative","scale":{"domain":[0,16.3],"range":[388.33,1090.4],"zero":false,"nice":false},"axis":null},"y":{"datum":3107,"type":"quantitative","scale":{"domain":[0,3000],"range":[1065,719.3],"zero":false,"nice":false},"axis":null}}}
],"resolve":{"scale":{"x":"independent","y":"independent","color":"independent","shape":"independent"},"axis":{"x":"independent","y":"independent"}}},
{"layer":[
 {"data":{"name":"go"},"mark":{"type":"bar","stroke":"black","strokeWidth":1.5},"encoding":{
   "x":{"field":"value","type":"quantitative","scale":{"domain":[-30,20],"range":[1704.6,1991.1],"zero":false,"nice":false},"axis":{"orient":"top","offset":-784.3,"values":[-30,-20,-10,0,10,20],"labelExpr":"abs(datum.value)","labelAngle":90,"labelFontSize":21,"tickSize":10,"labelPadding":12,"labelOffset":{"condition":[{"test":"datum.value == -20","value":-4.6},{"test":"datum.value == -10","value":-8.2},{"test":"datum.value == 0","value":-12.9},{"test":"datum.value == 10","value":-18.8},{"test":"datum.value == 20","value":-24}],"value":0},"title":["Adjusted p Value","(-Log10)"],"titleFont":"Open Sans","titleFontSize":26,"titleLineHeight":43,"titlePadding":18}},
   "y":{"field":"term","type":"nominal","scale":{"type":"band","domain":["Defense response to virus","Cellular response to interferon-beta","Immune system process","Antigen processing and presentation of peptide antigen","Cellular response to interferon-gamma","Long-term synaptic potentiation","Sensory perception of pain","Synapse organization","Memory","Learning","Regulation of nervous system development","Positive regulation of excitatory postsynaptic potential","Regulation of short-term neuronal synaptic plasticity","Neurotransmitter secretion","Gamma-aminobutyric acid signaling pathway","Trans-synaptic signaling"],"range":[784.3,1211.1],"paddingInner":0.32,"paddingOuter":0.29},"axis":{"orient":"left","offset":-1704.6,"labelFont":"Open Sans","labelFontSize":21.5,"tickSize":12,"labelPadding":8,"title":null}},
   "color":{"field":"group","type":"nominal","scale":{"domain":["Pathological Acute","Primed"],"range":["#9e0b5d","#1aab9b"]},"legend":null}}},
 {"data":{"values":[{}]},"mark":{"type":"rule","color":"black","strokeWidth":2.5,"strokeDash":[2,5],"strokeCap":"round"},"encoding":{"x":{"datum":0,"type":"quantitative","scale":{"domain":[-30,20],"range":[1704.6,1991.1],"zero":false,"nice":false},"axis":null},"y":{"datum":0,"type":"quantitative","scale":{"domain":[0,100],"range":[784.3,1300],"zero":false,"nice":false},"axis":null},"y2":{"datum":83.1}}},
 {"data":{"values":[{}]},"mark":{"type":"rule","color":"black","strokeWidth":4},"encoding":{"x":{"datum":-5.86,"type":"quantitative","scale":{"domain":[-30,20],"range":[1704.6,1991.1],"zero":false,"nice":false},"axis":null},"x2":{"datum":-25.2},"y":{"datum":86.31,"type":"quantitative","scale":{"domain":[0,100],"range":[784.3,1300],"zero":false,"nice":false},"axis":null}}},
 {"data":{"values":[{}]},"mark":{"type":"point","shape":"M-1,0L1,-0.75L0.5,0L1,0.75Z","size":1681,"filled":true,"opacity":1,"color":"black"},"encoding":{"x":{"datum":-25.2,"type":"quantitative","scale":{"domain":[-30,20],"range":[1704.6,1991.1],"zero":false,"nice":false},"axis":null},"y":{"datum":86.31,"type":"quantitative","scale":{"domain":[0,100],"range":[784.3,1300],"zero":false,"nice":false},"axis":null}}},
 {"data":{"values":[{}]},"mark":{"type":"rule","color":"black","strokeWidth":4},"encoding":{"x":{"datum":-0.2,"type":"quantitative","scale":{"domain":[-30,20],"range":[1704.6,1991.1],"zero":false,"nice":false},"axis":null},"x2":{"datum":12.0},"y":{"datum":86.31,"type":"quantitative","scale":{"domain":[0,100],"range":[784.3,1300],"zero":false,"nice":false},"axis":null}}},
 {"data":{"values":[{}]},"mark":{"type":"point","shape":"M1,0L-1,-0.75L-0.5,0L-1,0.75Z","size":1681,"filled":true,"opacity":1,"color":"black"},"encoding":{"x":{"datum":12.04,"type":"quantitative","scale":{"domain":[-30,20],"range":[1704.6,1991.1],"zero":false,"nice":false},"axis":null},"y":{"datum":86.31,"type":"quantitative","scale":{"domain":[0,100],"range":[784.3,1300],"zero":false,"nice":false},"axis":null}}},
 {"data":{"values":[{}]},"mark":{"type":"point","shape":"circle","size":196,"filled":true,"opacity":1,"color":"#9e0b5d"},"encoding":{"x":{"datum":-30.05,"type":"quantitative","scale":{"domain":[-30,20],"range":[1704.6,1991.1],"zero":false,"nice":false},"axis":null},"y":{"datum":92.83,"type":"quantitative","scale":{"domain":[0,100],"range":[784.3,1300],"zero":false,"nice":false},"axis":null}}},
 {"data":{"values":[{}]},"mark":{"type":"text","text":"Pathological","fontSize":23,"align":"center","baseline":"middle"},"encoding":{"x":{"datum":-15.3,"type":"quantitative","scale":{"domain":[-30,20],"range":[1704.6,1991.1],"zero":false,"nice":false},"axis":null},"y":{"datum":92.83,"type":"quantitative","scale":{"domain":[0,100],"range":[784.3,1300],"zero":false,"nice":false},"axis":null}}},
 {"data":{"values":[{}]},"mark":{"type":"text","text":"Acute","fontSize":23,"align":"center","baseline":"middle"},"encoding":{"x":{"datum":-15.2,"type":"quantitative","scale":{"domain":[-30,20],"range":[1704.6,1991.1],"zero":false,"nice":false},"axis":null},"y":{"datum":98.45,"type":"quantitative","scale":{"domain":[0,100],"range":[784.3,1300],"zero":false,"nice":false},"axis":null}}},
 {"data":{"values":[{}]},"mark":{"type":"text","text":"Primed","fontSize":23,"align":"center","baseline":"middle"},"encoding":{"x":{"datum":8.1,"type":"quantitative","scale":{"domain":[-30,20],"range":[1704.6,1991.1],"zero":false,"nice":false},"axis":null},"y":{"datum":92.83,"type":"quantitative","scale":{"domain":[0,100],"range":[784.3,1300],"zero":false,"nice":false},"axis":null}}},
 {"data":{"values":[{}]},"mark":{"type":"point","shape":"M-1.25,-0.81L-0.81,-1.25L0,-0.44L0.81,-1.25L1.25,-0.81L0.44,0L1.25,0.81L0.81,1.25L0,0.44L-0.81,1.25L-1.25,0.81L-0.44,0Z","size":224,"filled":true,"opacity":1,"color":"#1aab9b"},"encoding":{"x":{"datum":18.2,"type":"quantitative","scale":{"domain":[-30,20],"range":[1704.6,1991.1],"zero":false,"nice":false},"axis":null},"y":{"datum":92.83,"type":"quantitative","scale":{"domain":[0,100],"range":[784.3,1300],"zero":false,"nice":false},"axis":null}}}
],"resolve":{"scale":{"x":"independent","y":"independent","color":"independent"},"axis":{"x":"independent","y":"independent"}}},
{"layer":[
 {"data":{"values":[{}]},"mark":{"type":"rule","color":"black","strokeWidth":2.5},"encoding":{"x":{"datum":0,"type":"quantitative","scale":{"domain":[0,1],"range":[207.9,1073.7],"zero":false,"nice":false},"axis":null},"x2":{"datum":1},"y":{"datum":0,"type":"quantitative","scale":{"domain":[0,1],"range":[1477.7,1860],"zero":false,"nice":false},"axis":null}}},
 {"data":{"values":[{}]},"mark":{"type":"rule","color":"black","strokeWidth":2.5},"encoding":{"x":{"datum":0,"type":"quantitative","scale":{"domain":[0,1],"range":[207.9,1073.7],"zero":false,"nice":false},"axis":null},"x2":{"datum":1},"y":{"datum":0.195,"type":"quantitative","scale":{"domain":[0,1],"range":[1477.7,1860],"zero":false,"nice":false},"axis":null}}},
 {"data":{"values":[{}]},"mark":{"type":"rule","color":"black","strokeWidth":2.5},"encoding":{"x":{"datum":0,"type":"quantitative","scale":{"domain":[0,1],"range":[207.9,1073.7],"zero":false,"nice":false},"axis":null},"x2":{"datum":1},"y":{"datum":0.542,"type":"quantitative","scale":{"domain":[0,1],"range":[1477.7,1860],"zero":false,"nice":false},"axis":null}}},
 {"data":{"values":[{}]},"mark":{"type":"rule","color":"black","strokeWidth":2.5},"encoding":{"x":{"datum":0,"type":"quantitative","scale":{"domain":[0,1],"range":[207.9,1073.7],"zero":false,"nice":false},"axis":null},"x2":{"datum":1},"y":{"datum":1,"type":"quantitative","scale":{"domain":[0,1],"range":[1477.7,1860],"zero":false,"nice":false},"axis":null}}},
 {"data":{"values":[{}]},"mark":{"type":"point","shape":"circle","size":210,"filled":true,"opacity":1,"color":"#9e0b5d"},"encoding":{"x":{"datum":0.33,"type":"quantitative","scale":{"domain":[0,1],"range":[207.9,1073.7],"zero":false,"nice":false},"axis":null},"y":{"datum":-0.0855,"type":"quantitative","scale":{"domain":[0,1],"range":[1477.7,1860],"zero":false,"nice":false},"axis":null}}},
 {"data":{"values":[{}]},"mark":{"type":"text","text":"Pathological Acute","fontSize":33,"align":"left","baseline":"middle"},"encoding":{"x":{"datum":0.3616,"type":"quantitative","scale":{"domain":[0,1],"range":[207.9,1073.7],"zero":false,"nice":false},"axis":null},"y":{"datum":-0.0855,"type":"quantitative","scale":{"domain":[0,1],"range":[1477.7,1860],"zero":false,"nice":false},"axis":null}}},
 {"data":{"values":[{}]},"mark":{"type":"text","text":"Motif","font":"Liberation Sans","fontSize":27,"align":"center","baseline":"middle"},"encoding":{"x":{"datum":0.37,"type":"quantitative","scale":{"domain":[0,1],"range":[207.9,1073.7],"zero":false,"nice":false},"axis":null},"y":{"datum":0.0976,"type":"quantitative","scale":{"domain":[0,1],"range":[1477.7,1860],"zero":false,"nice":false},"axis":null}}},
 {"data":{"values":[{}]},"mark":{"type":"text","text":"TF","font":"Liberation Sans","fontSize":27,"align":"center","baseline":"middle"},"encoding":{"x":{"datum":0.787,"type":"quantitative","scale":{"domain":[0,1],"range":[207.9,1073.7],"zero":false,"nice":false},"axis":null},"y":{"datum":0.0976,"type":"quantitative","scale":{"domain":[0,1],"range":[1477.7,1860],"zero":false,"nice":false},"axis":null}}},
 {"data":{"values":[{}]},"mark":{"type":"text","text":"p-value","font":"Liberation Sans","fontSize":27,"align":"center","baseline":"middle"},"encoding":{"x":{"datum":0.9276,"type":"quantitative","scale":{"domain":[0,1],"range":[207.9,1073.7],"zero":false,"nice":false},"axis":null},"y":{"datum":0.0976,"type":"quantitative","scale":{"domain":[0,1],"range":[1477.7,1860],"zero":false,"nice":false},"axis":null}}},
 {"data":{"name":"tfs"},"transform":[{"filter":{"field":"side","equal":"left"}}],"mark":{"type":"text","font":"Liberation Sans","fontSize":27,"align":"center","baseline":"middle"},"encoding":{"x":{"datum":0.791,"type":"quantitative","scale":{"domain":[0,1],"range":[207.9,1073.7],"zero":false,"nice":false},"axis":null},"y":{"field":"TF","type":"nominal","scale":{"type":"point","domain":["STAT1","IRF1"],"range":[1613.3,1775],"padding":0},"axis":null},"text":{"field":"TF"}}},
 {"data":{"name":"tfs"},"transform":[{"filter":{"field":"side","equal":"left"}}],"mark":{"type":"text","font":"Liberation Sans","fontSize":27,"align":"center","baseline":"middle"},"encoding":{"x":{"datum":0.9276,"type":"quantitative","scale":{"domain":[0,1],"range":[207.9,1073.7],"zero":false,"nice":false},"axis":null},"y":{"field":"TF","type":"nominal","scale":{"type":"point","domain":["STAT1","IRF1"],"range":[1613.3,1775],"padding":0},"axis":null},"text":{"field":"p"}}},
 {"data":{"values":[{}]},"mark":{"type":"text","text":"F","font":"Liberation Sans","fontSize":50,"align":"center","baseline":"alphabetic"},"encoding":{"x":{"datum":-0.2026,"type":"quantitative","scale":{"domain":[0,1],"range":[207.9,1073.7],"zero":false,"nice":false},"axis":null},"y":{"datum":-0.1038,"type":"quantitative","scale":{"domain":[0,1],"range":[1477.7,1860],"zero":false,"nice":false},"axis":null}}}
],"resolve":{"scale":{"x":"independent","y":"independent"}}},
{"layer":[
 {"data":{"values":[{}]},"mark":{"type":"rule","color":"black","strokeWidth":2.5},"encoding":{"x":{"datum":0,"type":"quantitative","scale":{"domain":[0,1],"range":[1195.2,1821.8],"zero":false,"nice":false},"axis":null},"x2":{"datum":1},"y":{"datum":0,"type":"quantitative","scale":{"domain":[0,1],"range":[1476.3,2034.7],"zero":false,"nice":false},"axis":null}}},
 {"data":{"values":[{}]},"mark":{"type":"rule","color":"black","strokeWidth":2.5},"encoding":{"x":{"datum":0,"type":"quantitative","scale":{"domain":[0,1],"range":[1195.2,1821.8],"zero":false,"nice":false},"axis":null},"x2":{"datum":1},"y":{"datum":0.1338,"type":"quantitative","scale":{"domain":[0,1],"range":[1476.3,2034.7],"zero":false,"nice":false},"axis":null}}},
 {"data":{"values":[{}]},"mark":{"type":"rule","color":"black","strokeWidth":2.5},"encoding":{"x":{"datum":0,"type":"quantitative","scale":{"domain":[0,1],"range":[1195.2,1821.8],"zero":false,"nice":false},"axis":null},"x2":{"datum":1},"y":{"datum":0.4262,"type":"quantitative","scale":{"domain":[0,1],"range":[1476.3,2034.7],"zero":false,"nice":false},"axis":null}}},
 {"data":{"values":[{}]},"mark":{"type":"rule","color":"black","strokeWidth":2.5},"encoding":{"x":{"datum":0,"type":"quantitative","scale":{"domain":[0,1],"range":[1195.2,1821.8],"zero":false,"nice":false},"axis":null},"x2":{"datum":1},"y":{"datum":0.7113,"type":"quantitative","scale":{"domain":[0,1],"range":[1476.3,2034.7],"zero":false,"nice":false},"axis":null}}},
 {"data":{"values":[{}]},"mark":{"type":"rule","color":"black","strokeWidth":2.5},"encoding":{"x":{"datum":0,"type":"quantitative","scale":{"domain":[0,1],"range":[1195.2,1821.8],"zero":false,"nice":false},"axis":null},"x2":{"datum":1},"y":{"datum":1,"type":"quantitative","scale":{"domain":[0,1],"range":[1476.3,2034.7],"zero":false,"nice":false},"axis":null}}},
 {"data":{"values":[{}]},"mark":{"type":"point","shape":"M-1.25,-0.81L-0.81,-1.25L0,-0.44L0.81,-1.25L1.25,-0.81L0.44,0L1.25,0.81L0.81,1.25L0,0.44L-0.81,1.25L-1.25,0.81L-0.44,0Z","size":243,"filled":true,"opacity":1,"color":"#1aab9b"},"encoding":{"x":{"datum":0.3862,"type":"quantitative","scale":{"domain":[0,1],"range":[1195.2,1821.8],"zero":false,"nice":false},"axis":null},"y":{"datum":-0.0561,"type":"quantitative","scale":{"domain":[0,1],"range":[1476.3,2034.7],"zero":false,"nice":false},"axis":null}}},
 {"data":{"values":[{}]},"mark":{"type":"text","text":"Primed","fontSize":31,"align":"left","baseline":"middle"},"encoding":{"x":{"datum":0.4221,"type":"quantitative","scale":{"domain":[0,1],"range":[1195.2,1821.8],"zero":false,"nice":false},"axis":null},"y":{"datum":-0.0561,"type":"quantitative","scale":{"domain":[0,1],"range":[1476.3,2034.7],"zero":false,"nice":false},"axis":null}}},
 {"data":{"values":[{}]},"mark":{"type":"text","text":"Motif","font":"Liberation Sans","fontSize":27,"align":"center","baseline":"middle"},"encoding":{"x":{"datum":0.2699,"type":"quantitative","scale":{"domain":[0,1],"range":[1195.2,1821.8],"zero":false,"nice":false},"axis":null},"y":{"datum":0.0666,"type":"quantitative","scale":{"domain":[0,1],"range":[1476.3,2034.7],"zero":false,"nice":false},"axis":null}}},
 {"data":{"values":[{}]},"mark":{"type":"text","text":"TF","font":"Liberation Sans","fontSize":27,"align":"center","baseline":"middle"},"encoding":{"x":{"datum":0.6561,"type":"quantitative","scale":{"domain":[0,1],"range":[1195.2,1821.8],"zero":false,"nice":false},"axis":null},"y":{"datum":0.0666,"type":"quantitative","scale":{"domain":[0,1],"range":[1476.3,2034.7],"zero":false,"nice":false},"axis":null}}},
 {"data":{"values":[{}]},"mark":{"type":"text","text":"p-value","font":"Liberation Sans","fontSize":27,"align":"center","baseline":"middle"},"encoding":{"x":{"datum":0.8407,"type":"quantitative","scale":{"domain":[0,1],"range":[1195.2,1821.8],"zero":false,"nice":false},"axis":null},"y":{"datum":0.0666,"type":"quantitative","scale":{"domain":[0,1],"range":[1476.3,2034.7],"zero":false,"nice":false},"axis":null}}},
 {"data":{"name":"tfs"},"transform":[{"filter":{"field":"side","equal":"right"}}],"mark":{"type":"text","font":"Liberation Sans","fontSize":27,"align":"center","baseline":"middle"},"encoding":{"x":{"datum":0.654,"type":"quantitative","scale":{"domain":[0,1],"range":[1195.2,1821.8],"zero":false,"nice":false},"axis":null},"y":{"field":"TF","type":"nominal","scale":{"type":"point","domain":["ETS1","ELK1","GABPA"],"range":[1628.6,1953],"padding":0},"axis":null},"text":{"field":"TF"}}},
 {"data":{"name":"tfs"},"transform":[{"filter":{"field":"side","equal":"right"}}],"mark":{"type":"text","font":"Liberation Sans","fontSize":27,"align":"center","baseline":"middle"},"encoding":{"x":{"datum":0.8396,"type":"quantitative","scale":{"domain":[0,1],"range":[1195.2,1821.8],"zero":false,"nice":false},"axis":null},"y":{"field":"TF","type":"nominal","scale":{"type":"point","domain":["ETS1","ELK1","GABPA"],"range":[1628.6,1953],"padding":0},"axis":null},"text":{"field":"p"}}}
],"resolve":{"scale":{"x":"independent","y":"independent"}}},
{"data":{"name":"logos"},
 "transform":[{"stack":"bits","groupby":["motif","pos"],"sort":[{"field":"bits","order":"ascending"}],"as":["b0","b1"]}],
 "encoding":{
  "size":{"field":"bits","type":"quantitative","scale":{"type":"pow","exponent":2,"domain":[0,2],"range":[0,16384],"nice":false},"legend":null},
  "color":{"field":"letter","type":"nominal","scale":{"domain":["A","C","G","T"],"range":["#cc0000","#0000cc","#ffb300","#008000"]},"legend":null}},
 "layer":[
  {"transform":[{"filter":{"field":"bits","gte":1.5}}],
   "encoding":{"shape":{"field":"letter","type":"nominal","scale":{"domain":["A","C","G","T"],"range":["M-0.19,0L-0.048,-2L0.048,-2L0.19,0L0.105,0L0.062,-0.6L-0.062,-0.6L-0.105,0ZM0.044,-0.85L0,-1.467L-0.044,-0.85Z","M0.146,-1.643A0.19,1 0 1 0 0.146,-0.357L0.061,-0.511A0.08,0.76 0 1 1 0.061,-1.489Z","M0.146,-1.643A0.19,1 0 1 0 0.19,-0.92L0.19,-1.1L0.029,-1.1L0.029,-0.88L0.079,-0.88A0.08,0.76 0 1 1 0.061,-1.489Z","M-0.19,-2L0.19,-2L0.19,-1.68L0.057,-1.68L0.057,0L-0.057,0L-0.057,-1.68L-0.19,-1.68Z"]},"legend":null}},
   "layer":[
    {"transform":[{"filter":{"field":"motif","equal":"STAT1"}}],"mark":{"type":"point","filled":true,"opacity":1},"encoding":{"x":{"field":"pos","type":"quantitative","scale":{"domain":[0.5,22.5],"range":[214.05,818.75],"zero":false,"nice":false},"axis":null},"y":{"field":"b0","type":"quantitative","scale":{"domain":[0,2],"range":[1662.7,1534.7],"zero":false,"nice":false},"axis":null}}},
    {"transform":[{"filter":{"field":"motif","equal":"IRF1"}}],"mark":{"type":"point","filled":true,"opacity":1},"encoding":{"x":{"field":"pos","type":"quantitative","scale":{"domain":[0.5,20.5],"range":[227.1,674.5],"zero":false,"nice":false},"axis":null},"y":{"field":"b0","type":"quantitative","scale":{"domain":[0,2],"range":[1823.3,1695.3],"zero":false,"nice":false},"axis":null}}},
    {"transform":[{"filter":{"field":"motif","equal":"ETS1"}}],"mark":{"type":"point","filled":true,"opacity":1},"encoding":{"x":{"field":"pos","type":"quantitative","scale":{"domain":[0.5,14.5],"range":[1215.4,1530.6],"zero":false,"nice":false},"axis":null},"y":{"field":"b0","type":"quantitative","scale":{"domain":[0,2],"range":[1691,1563],"zero":false,"nice":false},"axis":null}}},
    {"transform":[{"filter":{"field":"motif","equal":"ELK1"}}],"mark":{"type":"point","filled":true,"opacity":1},"encoding":{"x":{"field":"pos","type":"quantitative","scale":{"domain":[0.5,11.5],"range":[1215.3,1466.4],"zero":false,"nice":false},"axis":null},"y":{"field":"b0","type":"quantitative","scale":{"domain":[0,2],"range":[1848.3,1720.3],"zero":false,"nice":false},"axis":null}}},
    {"transform":[{"filter":{"field":"motif","equal":"GABPA"}}],"mark":{"type":"point","filled":true,"opacity":1},"encoding":{"x":{"field":"pos","type":"quantitative","scale":{"domain":[0.5,14.5],"range":[1210.3,1529.7],"zero":false,"nice":false},"axis":null},"y":{"field":"b0","type":"quantitative","scale":{"domain":[0,2],"range":[2011.7,1883.7],"zero":false,"nice":false},"axis":null}}}
   ],"resolve":{"scale":{"x":"independent","y":"independent"}}},
  {"transform":[{"filter":{"and":[{"field":"bits","gte":1.0},{"field":"bits","lt":1.5}]}}],
   "encoding":{"shape":{"field":"letter","type":"nominal","scale":{"domain":["A","C","G","T"],"range":["M-0.27,0L-0.068,-2L0.068,-2L0.27,0L0.149,0L0.088,-0.6L-0.088,-0.6L-0.149,0ZM0.062,-0.85L0,-1.467L-0.062,-0.85Z","M0.207,-1.643A0.27,1 0 1 0 0.207,-0.357L0.087,-0.511A0.113,0.76 0 1 1 0.087,-1.489Z","M0.207,-1.643A0.27,1 0 1 0 0.27,-0.92L0.27,-1.1L0.041,-1.1L0.041,-0.88L0.112,-0.88A0.113,0.76 0 1 1 0.087,-1.489Z","M-0.27,-2L0.27,-2L0.27,-1.68L0.081,-1.68L0.081,0L-0.081,0L-0.081,-1.68L-0.27,-1.68Z"]},"legend":null}},
   "layer":[
    {"transform":[{"filter":{"field":"motif","equal":"STAT1"}}],"mark":{"type":"point","filled":true,"opacity":1},"encoding":{"x":{"field":"pos","type":"quantitative","scale":{"domain":[0.5,22.5],"range":[214.05,818.75],"zero":false,"nice":false},"axis":null},"y":{"field":"b0","type":"quantitative","scale":{"domain":[0,2],"range":[1662.7,1534.7],"zero":false,"nice":false},"axis":null}}},
    {"transform":[{"filter":{"field":"motif","equal":"IRF1"}}],"mark":{"type":"point","filled":true,"opacity":1},"encoding":{"x":{"field":"pos","type":"quantitative","scale":{"domain":[0.5,20.5],"range":[227.1,674.5],"zero":false,"nice":false},"axis":null},"y":{"field":"b0","type":"quantitative","scale":{"domain":[0,2],"range":[1823.3,1695.3],"zero":false,"nice":false},"axis":null}}},
    {"transform":[{"filter":{"field":"motif","equal":"ETS1"}}],"mark":{"type":"point","filled":true,"opacity":1},"encoding":{"x":{"field":"pos","type":"quantitative","scale":{"domain":[0.5,14.5],"range":[1215.4,1530.6],"zero":false,"nice":false},"axis":null},"y":{"field":"b0","type":"quantitative","scale":{"domain":[0,2],"range":[1691,1563],"zero":false,"nice":false},"axis":null}}},
    {"transform":[{"filter":{"field":"motif","equal":"ELK1"}}],"mark":{"type":"point","filled":true,"opacity":1},"encoding":{"x":{"field":"pos","type":"quantitative","scale":{"domain":[0.5,11.5],"range":[1215.3,1466.4],"zero":false,"nice":false},"axis":null},"y":{"field":"b0","type":"quantitative","scale":{"domain":[0,2],"range":[1848.3,1720.3],"zero":false,"nice":false},"axis":null}}},
    {"transform":[{"filter":{"field":"motif","equal":"GABPA"}}],"mark":{"type":"point","filled":true,"opacity":1},"encoding":{"x":{"field":"pos","type":"quantitative","scale":{"domain":[0.5,14.5],"range":[1210.3,1529.7],"zero":false,"nice":false},"axis":null},"y":{"field":"b0","type":"quantitative","scale":{"domain":[0,2],"range":[2011.7,1883.7],"zero":false,"nice":false},"axis":null}}}
   ],"resolve":{"scale":{"x":"independent","y":"independent"}}},
  {"transform":[{"filter":{"and":[{"field":"bits","gte":0.6},{"field":"bits","lt":1.0}]}}],
   "encoding":{"shape":{"field":"letter","type":"nominal","scale":{"domain":["A","C","G","T"],"range":["M-0.42,0L-0.105,-2L0.105,-2L0.42,0L0.231,0L0.137,-0.6L-0.137,-0.6L-0.231,0ZM0.097,-0.85L0,-1.467L-0.097,-0.85Z","M0.322,-1.643A0.42,1 0 1 0 0.322,-0.357L0.135,-0.511A0.176,0.76 0 1 1 0.135,-1.489Z","M0.322,-1.643A0.42,1 0 1 0 0.42,-0.92L0.42,-1.1L0.063,-1.1L0.063,-0.88L0.174,-0.88A0.176,0.76 0 1 1 0.135,-1.489Z","M-0.42,-2L0.42,-2L0.42,-1.68L0.126,-1.68L0.126,0L-0.126,0L-0.126,-1.68L-0.42,-1.68Z"]},"legend":null}},
   "layer":[
    {"transform":[{"filter":{"field":"motif","equal":"STAT1"}}],"mark":{"type":"point","filled":true,"opacity":1},"encoding":{"x":{"field":"pos","type":"quantitative","scale":{"domain":[0.5,22.5],"range":[214.05,818.75],"zero":false,"nice":false},"axis":null},"y":{"field":"b0","type":"quantitative","scale":{"domain":[0,2],"range":[1662.7,1534.7],"zero":false,"nice":false},"axis":null}}},
    {"transform":[{"filter":{"field":"motif","equal":"IRF1"}}],"mark":{"type":"point","filled":true,"opacity":1},"encoding":{"x":{"field":"pos","type":"quantitative","scale":{"domain":[0.5,20.5],"range":[227.1,674.5],"zero":false,"nice":false},"axis":null},"y":{"field":"b0","type":"quantitative","scale":{"domain":[0,2],"range":[1823.3,1695.3],"zero":false,"nice":false},"axis":null}}},
    {"transform":[{"filter":{"field":"motif","equal":"ETS1"}}],"mark":{"type":"point","filled":true,"opacity":1},"encoding":{"x":{"field":"pos","type":"quantitative","scale":{"domain":[0.5,14.5],"range":[1215.4,1530.6],"zero":false,"nice":false},"axis":null},"y":{"field":"b0","type":"quantitative","scale":{"domain":[0,2],"range":[1691,1563],"zero":false,"nice":false},"axis":null}}},
    {"transform":[{"filter":{"field":"motif","equal":"ELK1"}}],"mark":{"type":"point","filled":true,"opacity":1},"encoding":{"x":{"field":"pos","type":"quantitative","scale":{"domain":[0.5,11.5],"range":[1215.3,1466.4],"zero":false,"nice":false},"axis":null},"y":{"field":"b0","type":"quantitative","scale":{"domain":[0,2],"range":[1848.3,1720.3],"zero":false,"nice":false},"axis":null}}},
    {"transform":[{"filter":{"field":"motif","equal":"GABPA"}}],"mark":{"type":"point","filled":true,"opacity":1},"encoding":{"x":{"field":"pos","type":"quantitative","scale":{"domain":[0.5,14.5],"range":[1210.3,1529.7],"zero":false,"nice":false},"axis":null},"y":{"field":"b0","type":"quantitative","scale":{"domain":[0,2],"range":[2011.7,1883.7],"zero":false,"nice":false},"axis":null}}}
   ],"resolve":{"scale":{"x":"independent","y":"independent"}}},
  {"transform":[{"filter":{"and":[{"field":"bits","gte":0.3},{"field":"bits","lt":0.6}]}}],
   "encoding":{"shape":{"field":"letter","type":"nominal","scale":{"domain":["A","C","G","T"],"range":["M-0.7,0L-0.175,-2L0.175,-2L0.7,0L0.385,0L0.228,-0.6L-0.228,-0.6L-0.385,0ZM0.162,-0.85L0,-1.467L-0.162,-0.85Z","M0.536,-1.643A0.7,1 0 1 0 0.536,-0.357L0.225,-0.511A0.294,0.76 0 1 1 0.225,-1.489Z","M0.536,-1.643A0.7,1 0 1 0 0.7,-0.92L0.7,-1.1L0.105,-1.1L0.105,-0.88L0.29,-0.88A0.294,0.76 0 1 1 0.225,-1.489Z","M-0.7,-2L0.7,-2L0.7,-1.68L0.21,-1.68L0.21,0L-0.21,0L-0.21,-1.68L-0.7,-1.68Z"]},"legend":null}},
   "layer":[
    {"transform":[{"filter":{"field":"motif","equal":"STAT1"}}],"mark":{"type":"point","filled":true,"opacity":1},"encoding":{"x":{"field":"pos","type":"quantitative","scale":{"domain":[0.5,22.5],"range":[214.05,818.75],"zero":false,"nice":false},"axis":null},"y":{"field":"b0","type":"quantitative","scale":{"domain":[0,2],"range":[1662.7,1534.7],"zero":false,"nice":false},"axis":null}}},
    {"transform":[{"filter":{"field":"motif","equal":"IRF1"}}],"mark":{"type":"point","filled":true,"opacity":1},"encoding":{"x":{"field":"pos","type":"quantitative","scale":{"domain":[0.5,20.5],"range":[227.1,674.5],"zero":false,"nice":false},"axis":null},"y":{"field":"b0","type":"quantitative","scale":{"domain":[0,2],"range":[1823.3,1695.3],"zero":false,"nice":false},"axis":null}}},
    {"transform":[{"filter":{"field":"motif","equal":"ETS1"}}],"mark":{"type":"point","filled":true,"opacity":1},"encoding":{"x":{"field":"pos","type":"quantitative","scale":{"domain":[0.5,14.5],"range":[1215.4,1530.6],"zero":false,"nice":false},"axis":null},"y":{"field":"b0","type":"quantitative","scale":{"domain":[0,2],"range":[1691,1563],"zero":false,"nice":false},"axis":null}}},
    {"transform":[{"filter":{"field":"motif","equal":"ELK1"}}],"mark":{"type":"point","filled":true,"opacity":1},"encoding":{"x":{"field":"pos","type":"quantitative","scale":{"domain":[0.5,11.5],"range":[1215.3,1466.4],"zero":false,"nice":false},"axis":null},"y":{"field":"b0","type":"quantitative","scale":{"domain":[0,2],"range":[1848.3,1720.3],"zero":false,"nice":false},"axis":null}}},
    {"transform":[{"filter":{"field":"motif","equal":"GABPA"}}],"mark":{"type":"point","filled":true,"opacity":1},"encoding":{"x":{"field":"pos","type":"quantitative","scale":{"domain":[0.5,14.5],"range":[1210.3,1529.7],"zero":false,"nice":false},"axis":null},"y":{"field":"b0","type":"quantitative","scale":{"domain":[0,2],"range":[2011.7,1883.7],"zero":false,"nice":false},"axis":null}}}
   ],"resolve":{"scale":{"x":"independent","y":"independent"}}},
  {"transform":[{"filter":{"and":[{"field":"bits","gte":0.12},{"field":"bits","lt":0.3}]}}],
   "encoding":{"shape":{"field":"letter","type":"nominal","scale":{"domain":["A","C","G","T"],"range":["M-1.3,0L-0.325,-2L0.325,-2L1.3,0L0.715,0L0.423,-0.6L-0.423,-0.6L-0.715,0ZM0.3,-0.85L0,-1.467L-0.3,-0.85Z","M0.996,-1.643A1.3,1 0 1 0 0.996,-0.357L0.419,-0.511A0.546,0.76 0 1 1 0.419,-1.489Z","M0.996,-1.643A1.3,1 0 1 0 1.3,-0.92L1.3,-1.1L0.195,-1.1L0.195,-0.88L0.54,-0.88A0.546,0.76 0 1 1 0.419,-1.489Z","M-1.3,-2L1.3,-2L1.3,-1.68L0.39,-1.68L0.39,0L-0.39,0L-0.39,-1.68L-1.3,-1.68Z"]},"legend":null}},
   "layer":[
    {"transform":[{"filter":{"field":"motif","equal":"STAT1"}}],"mark":{"type":"point","filled":true,"opacity":1},"encoding":{"x":{"field":"pos","type":"quantitative","scale":{"domain":[0.5,22.5],"range":[214.05,818.75],"zero":false,"nice":false},"axis":null},"y":{"field":"b0","type":"quantitative","scale":{"domain":[0,2],"range":[1662.7,1534.7],"zero":false,"nice":false},"axis":null}}},
    {"transform":[{"filter":{"field":"motif","equal":"IRF1"}}],"mark":{"type":"point","filled":true,"opacity":1},"encoding":{"x":{"field":"pos","type":"quantitative","scale":{"domain":[0.5,20.5],"range":[227.1,674.5],"zero":false,"nice":false},"axis":null},"y":{"field":"b0","type":"quantitative","scale":{"domain":[0,2],"range":[1823.3,1695.3],"zero":false,"nice":false},"axis":null}}},
    {"transform":[{"filter":{"field":"motif","equal":"ETS1"}}],"mark":{"type":"point","filled":true,"opacity":1},"encoding":{"x":{"field":"pos","type":"quantitative","scale":{"domain":[0.5,14.5],"range":[1215.4,1530.6],"zero":false,"nice":false},"axis":null},"y":{"field":"b0","type":"quantitative","scale":{"domain":[0,2],"range":[1691,1563],"zero":false,"nice":false},"axis":null}}},
    {"transform":[{"filter":{"field":"motif","equal":"ELK1"}}],"mark":{"type":"point","filled":true,"opacity":1},"encoding":{"x":{"field":"pos","type":"quantitative","scale":{"domain":[0.5,11.5],"range":[1215.3,1466.4],"zero":false,"nice":false},"axis":null},"y":{"field":"b0","type":"quantitative","scale":{"domain":[0,2],"range":[1848.3,1720.3],"zero":false,"nice":false},"axis":null}}},
    {"transform":[{"filter":{"field":"motif","equal":"GABPA"}}],"mark":{"type":"point","filled":true,"opacity":1},"encoding":{"x":{"field":"pos","type":"quantitative","scale":{"domain":[0.5,14.5],"range":[1210.3,1529.7],"zero":false,"nice":false},"axis":null},"y":{"field":"b0","type":"quantitative","scale":{"domain":[0,2],"range":[2011.7,1883.7],"zero":false,"nice":false},"axis":null}}}
   ],"resolve":{"scale":{"x":"independent","y":"independent"}}},
  {"transform":[{"filter":{"field":"bits","lt":0.12}}],
   "encoding":{"shape":{"field":"letter","type":"nominal","scale":{"domain":["A","C","G","T"],"range":["M-2.6,0L-0.65,-2L0.65,-2L2.6,0L1.43,0L0.845,-0.6L-0.845,-0.6L-1.43,0ZM0.601,-0.85L0,-1.467L-0.601,-0.85Z","M1.992,-1.643A2.6,1 0 1 0 1.992,-0.357L0.837,-0.511A1.092,0.76 0 1 1 0.837,-1.489Z","M1.992,-1.643A2.6,1 0 1 0 2.6,-0.92L2.6,-1.1L0.39,-1.1L0.39,-0.88L1.079,-0.88A1.092,0.76 0 1 1 0.837,-1.489Z","M-2.6,-2L2.6,-2L2.6,-1.68L0.78,-1.68L0.78,0L-0.78,0L-0.78,-1.68L-2.6,-1.68Z"]},"legend":null}},
   "layer":[
    {"transform":[{"filter":{"field":"motif","equal":"STAT1"}}],"mark":{"type":"point","filled":true,"opacity":1},"encoding":{"x":{"field":"pos","type":"quantitative","scale":{"domain":[0.5,22.5],"range":[214.05,818.75],"zero":false,"nice":false},"axis":null},"y":{"field":"b0","type":"quantitative","scale":{"domain":[0,2],"range":[1662.7,1534.7],"zero":false,"nice":false},"axis":null}}},
    {"transform":[{"filter":{"field":"motif","equal":"IRF1"}}],"mark":{"type":"point","filled":true,"opacity":1},"encoding":{"x":{"field":"pos","type":"quantitative","scale":{"domain":[0.5,20.5],"range":[227.1,674.5],"zero":false,"nice":false},"axis":null},"y":{"field":"b0","type":"quantitative","scale":{"domain":[0,2],"range":[1823.3,1695.3],"zero":false,"nice":false},"axis":null}}},
    {"transform":[{"filter":{"field":"motif","equal":"ETS1"}}],"mark":{"type":"point","filled":true,"opacity":1},"encoding":{"x":{"field":"pos","type":"quantitative","scale":{"domain":[0.5,14.5],"range":[1215.4,1530.6],"zero":false,"nice":false},"axis":null},"y":{"field":"b0","type":"quantitative","scale":{"domain":[0,2],"range":[1691,1563],"zero":false,"nice":false},"axis":null}}},
    {"transform":[{"filter":{"field":"motif","equal":"ELK1"}}],"mark":{"type":"point","filled":true,"opacity":1},"encoding":{"x":{"field":"pos","type":"quantitative","scale":{"domain":[0.5,11.5],"range":[1215.3,1466.4],"zero":false,"nice":false},"axis":null},"y":{"field":"b0","type":"quantitative","scale":{"domain":[0,2],"range":[1848.3,1720.3],"zero":false,"nice":false},"axis":null}}},
    {"transform":[{"filter":{"field":"motif","equal":"GABPA"}}],"mark":{"type":"point","filled":true,"opacity":1},"encoding":{"x":{"field":"pos","type":"quantitative","scale":{"domain":[0.5,14.5],"range":[1210.3,1529.7],"zero":false,"nice":false},"axis":null},"y":{"field":"b0","type":"quantitative","scale":{"domain":[0,2],"range":[2011.7,1883.7],"zero":false,"nice":false},"axis":null}}}
   ],"resolve":{"scale":{"x":"independent","y":"independent"}}}
 ],
 "resolve":{"scale":{"x":"independent","y":"independent","shape":"independent"}}}
],
"resolve":{"scale":{"x":"independent","y":"independent","color":"independent","shape":"independent","size":"independent"},"axis":{"x":"independent","y":"independent"},"legend":{"color":"independent","shape":"independent","size":"independent"}}
}
